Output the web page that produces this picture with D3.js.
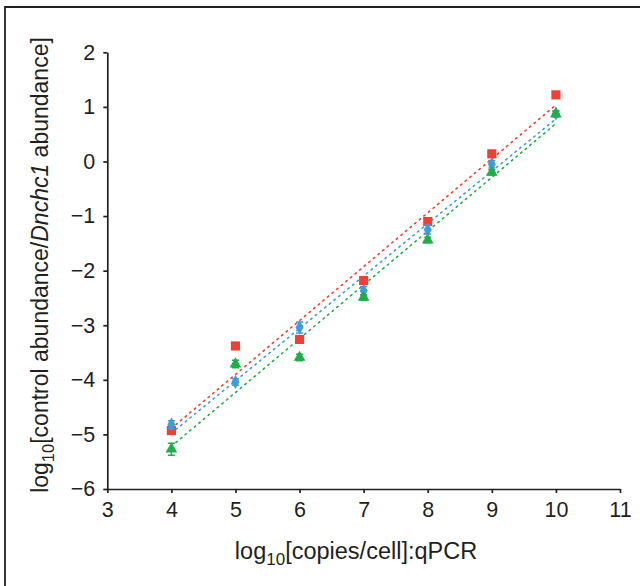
<!DOCTYPE html>
<html>
<head>
<meta charset="utf-8">
<script src="https://cdn.jsdelivr.net/npm/d3@7"></script>
<style>
  html, body { margin: 0; padding: 0; background: #fff; }
  svg { display: block; font-family: "Liberation Sans", Arial, sans-serif; }
  .axis path, .axis line { stroke: #231f20; stroke-width: 1.7; }
  .axis text { font-size: 21.5px; fill: #231f20; }
</style>
</head>
<body>
<svg id="chart" width="640" height="586"></svg>
<script>
// x positions: log10 copies/cell
const copies = [4, 5, 6, 7, 8, 9, 10];

// measured log10 abundance ratios
const redValues   = [-4.93, -3.38, -3.26, -2.18, -1.10, 0.14, 1.22];
const blueValues  = [-4.82, -4.04, -3.04, -2.37, -1.25, -0.05, 0.88];
const greenValues = [-5.27, -3.71, -3.59, -2.49, -1.44, -0.20, 0.87];

// error bar half-widths
const redErr   = [0.03, 0.03, 0.03, 0.03, 0.03, 0.03, 0.03];
const blueErr  = [0.07, 0.06, 0.10, 0.08, 0.08, 0.07, 0.05];
const greenErr = [0.11, 0.07, 0.06, 0.05, 0.05, 0.05, 0.05];

const xTicks = [3, 4, 5, 6, 7, 8, 9, 10, 11];
const yTicks = [-6, -5, -4, -3, -2, -1, 0, 1, 2];

const series = [
  { name: "red",   values: redValues,   err: redErr,   color: "#ee4136", shape: "square" },
  { name: "blue",  values: blueValues,  err: blueErr,  color: "#3d9cdc", shape: "diamond" },
  { name: "green", values: greenValues, err: greenErr, color: "#20ad4a", shape: "triangle" }
];

const svg = d3.select("#chart");

// frame (top & left edge visible, rest cropped)
svg.append("path")
  .attr("d", "M5,700V7H700")
  .attr("fill", "none")
  .attr("stroke", "#231f20")
  .attr("stroke-width", 1.8);

const x = d3.scaleLinear().domain([3, 11]).range([107.3, 620]);
const y = d3.scaleLinear().domain([-6, 2]).range([489, 52.3]);

// axes
svg.append("g")
  .attr("class", "axis")
  .attr("transform", `translate(0,${y(-6)})`)
  .call(d3.axisBottom(x).tickValues(xTicks).tickSize(4).tickSizeOuter(0).tickPadding(6))
  .selectAll("text").attr("dy", "0.85em");

svg.append("g")
  .attr("class", "axis")
  .attr("transform", `translate(${x(3)},0)`)
  .call(d3.axisLeft(y).tickValues(yTicks).tickSize(4).tickSizeOuter(0).tickPadding(8));

// fit lines (least squares, drawn dotted from x=4 to x=10)
function fit(vals) {
  const mx = d3.mean(copies), my = d3.mean(vals);
  let num = 0, den = 0;
  copies.forEach((c, i) => { num += (c - mx) * (vals[i] - my); den += (c - mx) * (c - mx); });
  const b = num / den;
  return c => my + b * (c - mx);
}

series.forEach(s => {
  const f = fit(s.values);
  const ends = [d3.min(copies), d3.max(copies)];
  svg.append("line")
    .attr("x1", x(ends[0])).attr("y1", y(f(ends[0])))
    .attr("x2", x(ends[1])).attr("y2", y(f(ends[1])))
    .attr("stroke", s.color)
    .attr("stroke-width", 1.6)
    .attr("stroke-dasharray", "1.5,4.5")
    .attr("stroke-linecap", "round");
});

// markers with error bars
const symbols = {
  square: d3.symbol().type(d3.symbolSquare).size(84),
  diamond: d3.symbol().type(d3.symbolDiamond).size(56),
  triangle: d3.symbol().type(d3.symbolTriangle).size(60)
};

series.forEach(s => {
  const g = svg.append("g");
  copies.forEach((c, i) => {
    const cx = x(c), v = s.values[i], e = s.err[i];
    const top = y(v + e), bot = y(v - e);
    g.append("path")
      .attr("d", `M${cx},${top}V${bot}M${cx - 3.5},${top}H${cx + 3.5}M${cx - 3.5},${bot}H${cx + 3.5}`)
      .attr("stroke", s.color)
      .attr("stroke-width", 1.5)
      .attr("fill", "none");
    g.append("path")
      .attr("d", symbols[s.shape]())
      .attr("transform", `translate(${cx},${y(v)})`)
      .attr("fill", s.color);
  });
});

// axis titles
const xt = svg.append("text")
  .attr("x", 356)
  .attr("y", 559)
  .attr("text-anchor", "middle")
  .attr("font-size", 23.5)
  .attr("fill", "#231f20");
xt.append("tspan").text("log");
xt.append("tspan").attr("font-size", 17).attr("dy", 6).text("10");
xt.append("tspan").attr("dy", -6).text("[copies/cell]:qPCR");

const yt = svg.append("text")
  .attr("transform", "translate(48,265) rotate(-90)")
  .attr("text-anchor", "middle")
  .attr("font-size", 23)
  .attr("fill", "#231f20");
yt.append("tspan").text("log");
yt.append("tspan").attr("font-size", 16.5).attr("dy", 6).text("10");
yt.append("tspan").attr("dy", -6).text("[control abundance/");
yt.append("tspan").attr("font-style", "italic").text("Dnchc1");
yt.append("tspan").text(" abundance]");
</script>
</body>
</html>
